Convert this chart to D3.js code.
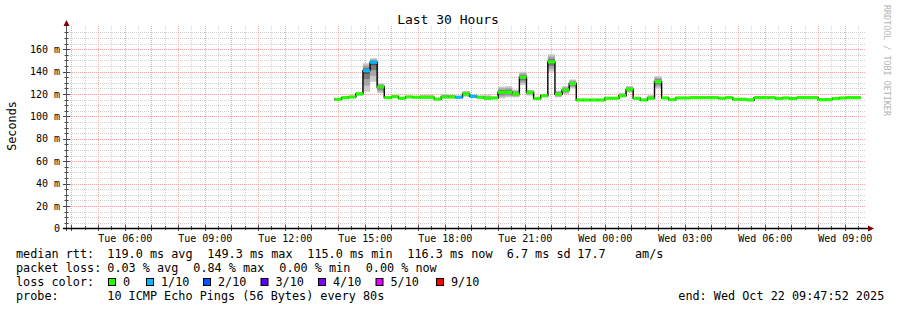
<!DOCTYPE html>
<html>
<head>
<meta charset="utf-8">
<script src="https://cdn.jsdelivr.net/npm/d3@7"></script>
<style>
  body { margin: 0; background: #fff; }
  text { font-family: "DejaVu Sans Mono", monospace; }
</style>
</head>
<body>
<div id="vis"></div>
<script>
    // 16 minute consolidated steps, first one starts Tue 13:52
    var firstStep = Date.UTC(2025, 9, 21, 13, 52),
        stepMinutes = 16;

    var median = [115.3, 116.8, 117.4, 120.1, 140.9, 148.4, 126.3, 116.8, 117.7, 116.2,
                  117.4, 117.1, 117.1, 117.1, 115.5, 117.4, 117.4, 117.1, 120.1, 118.0,
                  117.1, 116.2, 116.5, 121.6, 121.6, 120.1, 135.0, 121.6, 116.0, 118.5,
                  148.7, 119.8, 123.6, 129.3, 114.7, 114.7, 114.7, 114.7, 116.2, 116.2,
                  118.5, 124.2, 116.2, 114.7, 116.2, 131.1, 116.5, 115.0, 116.5, 116.5,
                  116.8, 116.8, 116.8, 116.8, 116.2, 116.8, 115.3, 115.3, 114.7, 116.8,
                  116.8, 116.8, 116.0, 116.5, 116.0, 116.8, 116.8, 116.8, 115.0, 115.0,
                  116.0, 116.5, 116.8, 116.8];
    var smokeLo = [114.6, 116.0, 116.6, 118.6, 122.0, 131.0, 120.7, 116.0, 116.8, 115.5,
                   116.5, 116.3, 116.0, 116.0, 114.8, 116.0, 116.0, 115.8, 117.6, 116.8,
                   116.0, 115.4, 115.6, 116.2, 117.0, 117.0, 128.0, 118.6, 115.2, 117.6,
                   140.0, 117.0, 120.0, 125.0, 114.0, 114.0, 114.0, 114.0, 115.5, 115.5,
                   117.2, 121.2, 115.4, 114.0, 115.4, 125.0, 115.6, 114.3, 115.8, 115.8,
                   116.0, 116.0, 116.0, 116.0, 115.5, 116.0, 114.6, 114.6, 114.0, 116.0,
                   116.0, 116.0, 115.3, 115.8, 115.3, 116.0, 116.0, 116.0, 114.3, 114.3,
                   115.3, 115.8, 116.0, 116.0];
    var smokeHi = [116.2, 117.5, 118.2, 122.0, 147.5, 152.0, 129.6, 117.6, 118.8, 117.0,
                   118.4, 118.2, 119.2, 119.0, 116.5, 120.0, 119.6, 118.4, 122.8, 119.5,
                   118.6, 119.0, 117.6, 126.6, 127.0, 124.0, 140.0, 123.6, 117.0, 119.5,
                   155.5, 123.0, 127.0, 133.0, 115.8, 115.4, 115.4, 115.4, 117.0, 117.0,
                   121.0, 127.2, 117.2, 115.6, 119.0, 136.0, 117.4, 115.8, 117.3, 117.3,
                   117.6, 117.6, 117.6, 117.6, 117.0, 117.6, 116.2, 116.2, 115.6, 117.6,
                   117.6, 117.6, 116.8, 117.3, 116.8, 117.6, 117.6, 117.6, 115.8, 115.8,
                   116.8, 117.3, 117.6, 117.6];
    // lost pings per step (out of 10)
    var loss = [0, 0, 0, 0, 1, 1, 0, 0, 0, 0, 0, 0, 0, 0, 0, 0, 0, 1, 0, 1,
                0, 0, 0, 0, 0, 0, 0, 0, 0, 0, 0, 0, 0, 0, 0, 0, 0, 0, 0, 0,
                0, 0, 0, 0, 0, 0, 0, 0, 0, 0, 0, 0, 0, 0, 0, 0, 0, 0, 0, 0,
                0, 0, 0, 0, 0, 0, 0, 0, 0, 0, 0, 0, 0, 0];

    var yTicks = [0, 20, 40, 60, 80, 100, 120, 140, 160];
    var lossLevels = [0, 1, 2, 3, 4, 5, 9];
    var lossLabels = ["0", "1/10", "2/10", "3/10", "4/10", "5/10", "9/10"];
    var lossColors = ["#26ff00", "#00b8ff", "#0059ff", "#5e00ff", "#7e00ff", "#dd00ff", "#ff0000"];

    var legendRtt = ["119.0 ms avg", "149.3 ms max", "115.0 ms min", "116.3 ms now", "6.7 ms sd", "17.7", "am/s"];
    var legendLoss = ["0.03 % avg", "0.84 % max", "0.00 % min", "0.00 % now"];
    var probeText = "10 ICMP Echo Pings (56 Bytes) every 80s";
    var endText = "end: Wed Oct 22 09:47:52 2025";

    var start = new Date(Date.UTC(2025, 9, 21, 3, 47, 52)),
        end = new Date(Date.UTC(2025, 9, 22, 9, 47, 52));

    var svg = d3.select("#vis").append("svg").attr("width", 897).attr("height", 310);

    var x = d3.scaleUtc().domain([start, end]).range([66, 866]),
        y = d3.scaleLinear().domain([0, 180]).range([228.3, 26.9]);

    var colorOf = function (l) { return lossColors[lossLevels.indexOf(l)]; };
    var t0 = function (i) { return new Date(firstStep + i * stepMinutes * 60000); };
    var t1 = function (i) { return new Date(firstStep + (i + 1) * stepMinutes * 60000); };

    //grid
    var grid = svg.append("g");
    d3.range(0, 180, 5).filter(function (v) { return v % 20 != 0; }).forEach(function (v) {
        var yy = Math.round(y(v)) + 0.5;
        grid.append("line").attr("x1", 66).attr("x2", 866).attr("y1", yy).attr("y2", yy)
            .attr("stroke", "#d2d2d2").attr("stroke-dasharray", "1,1");
    });
    x.ticks(d3.utcMinute.every(30)).filter(function (d) { return d.getUTCMinutes() == 30; }).forEach(function (d) {
        var xx = Math.round(x(d)) + 0.5;
        grid.append("line").attr("x1", xx).attr("x2", xx).attr("y1", 26).attr("y2", 228)
            .attr("stroke", "#d2d2d2").attr("stroke-dasharray", "1,1");
    });
    yTicks.slice(1).forEach(function (v) {
        var yy = Math.round(y(v)) + 0.5;
        grid.append("line").attr("x1", 66).attr("x2", 866).attr("y1", yy).attr("y2", yy)
            .attr("stroke", "#ffa4a4").attr("stroke-dasharray", "1,1");
    });
    x.ticks(d3.utcHour.every(1)).forEach(function (d) {
        var xx = Math.round(x(d)) + 0.5;
        grid.append("line").attr("x1", xx).attr("x2", xx).attr("y1", 26).attr("y2", 228)
            .attr("stroke", "#ffa4a4").attr("stroke-dasharray", "1,1");
    });

    //smoke
    var smoke = svg.append("g");
    median.forEach(function (m, i) {
        var xa = x(t0(i)), w = x(t1(i)) - xa;
        var bands = [
            [smokeLo[i], smokeHi[i], "#c8c8c8"],
            [m - (m - smokeLo[i]) * 0.7, m + (smokeHi[i] - m) * 0.7, "#a6a6a6"],
            [m - (m - smokeLo[i]) * 0.4, m + (smokeHi[i] - m) * 0.4, "#7a7a7a"],
            [m - (m - smokeLo[i]) * 0.15, m + (smokeHi[i] - m) * 0.15, "#505050"]
        ];
        bands.forEach(function (b) {
            smoke.append("rect").attr("x", xa).attr("width", w)
                .attr("y", y(b[1])).attr("height", Math.max(0.8, y(b[0]) - y(b[1])))
                .attr("fill", b[2]);
        });
    });

    //median line
    var pts = median.map(function (m, i) { return [t0(i), m]; });
    pts.push([t1(median.length - 1), median[median.length - 1]]);
    svg.append("path").datum(pts)
        .attr("d", d3.line().x(function (d) { return x(d[0]); }).y(function (d) { return y(d[1]); }).curve(d3.curveStepAfter))
        .attr("fill", "none").attr("stroke", "#000").attr("stroke-width", 1.4);
    svg.append("g").selectAll("line").data(median).join("line")
        .attr("x1", function (d, i) { return x(t0(i)); })
        .attr("x2", function (d, i) { return x(t1(i)); })
        .attr("y1", function (d) { return y(d); })
        .attr("y2", function (d) { return y(d); })
        .attr("stroke", function (d, i) { return colorOf(loss[i]); })
        .attr("stroke-width", 3.2);

    //axes
    var yAxis = d3.axisLeft(y).tickValues(yTicks).tickSize(0).tickPadding(6)
        .tickFormat(function (v) { return v == 0 ? "0" : v + " m"; });
    var gy = svg.append("g").attr("transform", "translate(66,0)").call(yAxis);
    gy.select(".domain").remove();
    gy.selectAll("text").attr("font-family", "DejaVu Sans Mono").attr("font-size", 10).attr("fill", "#000");

    var xAxis = d3.axisBottom(x).ticks(d3.utcHour.every(3)).tickSize(0).tickPadding(7)
        .tickFormat(d3.utcFormat("%a %H:%M"));
    var gx = svg.append("g").attr("transform", "translate(0,228)").call(xAxis);
    gx.select(".domain").remove();
    gx.selectAll("text").attr("font-family", "DejaVu Sans Mono").attr("font-size", 10).attr("fill", "#000");

    // tick marks
    var ticks = svg.append("g").attr("stroke", "#444");
    d3.range(0, 180, 5).forEach(function (v) {
        var yy = Math.round(y(v)) + 0.5, major = v % 20 == 0;
        ticks.append("line").attr("x1", major ? 63 : 64.5).attr("x2", major ? 70 : 68.5).attr("y1", yy).attr("y2", yy);
    });
    x.ticks(d3.utcMinute.every(30)).forEach(function (d) {
        var xx = Math.round(x(d)) + 0.5, major = d.getUTCMinutes() == 0;
        ticks.append("line").attr("x1", xx).attr("x2", xx).attr("y1", major ? 225 : 226).attr("y2", major ? 231 : 230);
    });

    svg.append("line").attr("x1", 66.5).attr("x2", 66.5).attr("y1", 231).attr("y2", 24).attr("stroke", "#555");
    svg.append("line").attr("x1", 63).attr("x2", 869).attr("y1", 228.5).attr("y2", 228.5).attr("stroke", "#000").attr("stroke-width", 1.5);
    svg.append("path").attr("d", "M63.5,26L66.5,20L69.5,26Z").attr("fill", "#7f0000");
    svg.append("path").attr("d", "M868,225.5L874,228.5L868,231.5Z").attr("fill", "#7f0000");

    //titles
    svg.append("text").attr("x", 448).attr("y", 24).attr("text-anchor", "middle")
        .attr("font-size", 13).text("Last 30 Hours");
    svg.append("text").attr("transform", "translate(16,126) rotate(-90)").attr("text-anchor", "middle")
        .attr("font-size", 11.8).text("Seconds");
    svg.append("text").attr("transform", "translate(884,5) rotate(90)")
        .attr("font-size", 8.4).attr("fill", "#b4b4b4").text("RRDTOOL / TOBI OETIKER");

    //legend
    var leg = svg.append("g").attr("font-size", 11.8).attr("fill", "#000");
    var row = function (label, yy) { leg.append("text").attr("x", 16).attr("y", yy).text(label); };
    row("median rtt:", 258);
    [107.3, 207.3, 307.3, 407.3, 506.7, 577.3, 635].forEach(function (xx, i) {
        leg.append("text").attr("x", xx).attr("y", 258).text(legendRtt[i]);
    });
    row("packet loss:", 272);
    [107.3, 193.3, 279.3, 365.7].forEach(function (xx, i) {
        leg.append("text").attr("x", xx).attr("y", 272).text(legendLoss[i]);
    });
    row("loss color:", 286);
    var boxX = [108.5, 146.5, 203.5, 261, 318.5, 376, 436.5];
    lossLabels.forEach(function (l, i) {
        leg.append("rect").attr("x", boxX[i]).attr("y", 278.5).attr("width", 7).attr("height", 7)
            .attr("fill", lossColors[i]).attr("stroke", "#000").attr("stroke-width", 1);
        leg.append("text").attr("x", boxX[i] + 14.5).attr("y", 286).text(l);
    });
    row("probe:", 300);
    leg.append("text").attr("x", 107.3).attr("y", 300).text(probeText);
    leg.append("text").attr("x", 678.3).attr("y", 300).text(endText);
</script>
</body>
</html>
